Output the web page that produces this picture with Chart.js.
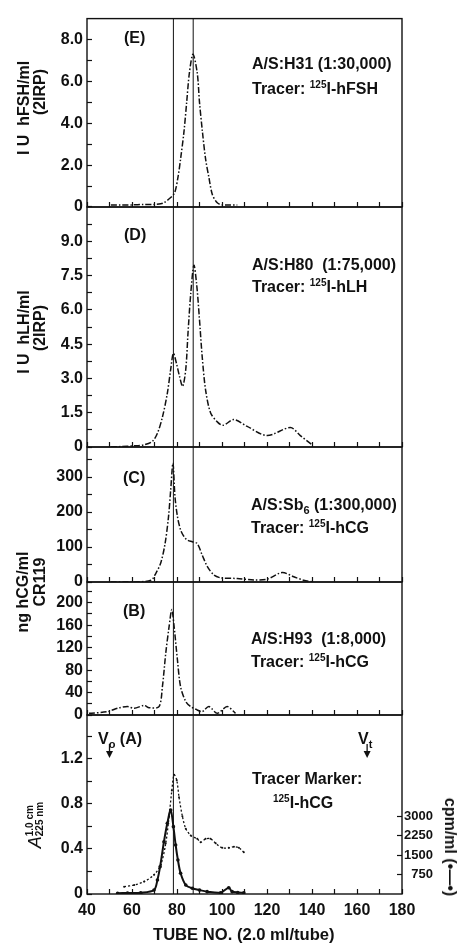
<!DOCTYPE html>
<html>
<head>
<meta charset="utf-8">
<script src="https://cdn.jsdelivr.net/npm/chart.js@4.4.1/dist/chart.umd.min.js"></script>
<style>
  html, body { margin: 0; padding: 0; background: #fff; }
  body { width: 459px; height: 945px; position: relative; overflow: hidden;
         font-family: "Liberation Sans", Arial, sans-serif; color: #111; font-weight: bold; }
  canvas { position: absolute; left: 0; top: 0; }
  .txt { position: absolute; font-size: 16px; line-height: 1; white-space: nowrap; }
  .ytitle { position: absolute; font-size: 16px; line-height: 1; white-space: nowrap;
            transform: translate(-50%, -50%) rotate(-90deg); }
  .ytitle.down { transform: translate(-50%, -50%) rotate(90deg); }
  .sup { font-size: 10px; position: relative; top: -6px; }
  .sub { font-size: 11px; position: relative; top: 4px; }
</style>
</head>
<body>
<canvas id="panelE" width="459" height="945"></canvas>
<canvas id="panelD" width="459" height="945"></canvas>
<canvas id="panelC" width="459" height="945"></canvas>
<canvas id="panelB" width="459" height="945"></canvas>
<canvas id="panelA" width="459" height="945"></canvas>

<!-- axis titles -->
<div class="ytitle" style="left:24px; top:108px;">I U&nbsp;&nbsp;hFSH/ml</div>
<div class="ytitle" style="left:40px; top:92px;">(2IRP)</div>
<div class="ytitle" style="left:24px; top:332px;">I U&nbsp;&nbsp;hLH/ml</div>
<div class="ytitle" style="left:40px; top:328px;">(2IRP)</div>
<div class="ytitle" style="left:23px; top:592px;">ng hCG/ml</div>
<div class="ytitle" style="left:40px; top:582px;">CR119</div>
<div class="ytitle" style="left:35px; top:825px; font-weight:normal;"><i style="font-size:18px">A</i><span style="display:inline-block; font-size:10px; line-height:1; vertical-align:-2px; font-weight:bold;">1.0 cm<br>225 nm</span></div>
<div class="ytitle down" style="left:450px; top:847px;">cpm/ml (•—•)</div>
<div class="txt" style="left:153px; top:927px; font-size:16.6px;">TUBE NO. (2.0 ml/tube)</div>

<!-- panel annotations -->
<div class="txt" style="left:124px; top:30px;">(E)</div>
<div class="txt" style="left:252px; top:56px;">A/S:H31 (1:30,000)</div>
<div class="txt" style="left:252px; top:81px;">Tracer: <span class="sup">125</span>I-hFSH</div>

<div class="txt" style="left:124px; top:227px;">(D)</div>
<div class="txt" style="left:252px; top:257px;">A/S:H80&nbsp; (1:75,000)</div>
<div class="txt" style="left:252px; top:279px;">Tracer: <span class="sup">125</span>I-hLH</div>

<div class="txt" style="left:123px; top:470px;">(C)</div>
<div class="txt" style="left:251px; top:497px;">A/S:Sb<span class="sub">6</span> (1:300,000)</div>
<div class="txt" style="left:251px; top:520px;">Tracer: <span class="sup">125</span>I-hCG</div>

<div class="txt" style="left:123px; top:603px;">(B)</div>
<div class="txt" style="left:251px; top:631px;">A/S:H93&nbsp; (1:8,000)</div>
<div class="txt" style="left:251px; top:654px;">Tracer: <span class="sup">125</span>I-hCG</div>

<div class="txt" style="left:98px; top:731px;">V<span class="sub">o</span> (A)</div>
<div class="txt" style="left:358px; top:731px;">V<span class="sub">t</span></div>
<div class="txt" style="left:252px; top:771px;">Tracer Marker:</div>
<div class="txt" style="left:273px; top:795px;"><span class="sup">125</span>I-hCG</div>

<script>
// x axis (tube number)
const tubeMin = 40;
const tubeMax = 180;
const xTicks = [40, 50, 60, 70, 80, 90, 100, 110, 120, 130, 140, 150, 160, 170, 180];
const markerTubes = [78.4, 87.2];   // the two vertical reference lines
const voidTubes = [50, 164.5];      // Vo and Vt arrows

// y tick positions of each panel (labelled ones are picked by the major step)
const eTicks = [0, 1, 2, 3, 4, 5, 6, 7, 8];
const dTicks = [0, 0.75, 1.5, 2.25, 3, 3.75, 4.5, 5.25, 6, 6.75, 7.5, 8.25, 9, 9.75];
const cTicks = [0, 50, 100, 150, 200, 250, 300, 350];
const bTicks = [0, 20, 40, 60, 80, 100, 120, 140, 160, 180, 200, 220];
const aTicks = [0, 0.2, 0.4, 0.6, 0.8, 1.0, 1.2, 1.4];
const cpmTicks = [750, 1500, 2250, 3000];

// (E) hFSH
const eTubes = [50.6, 55, 60, 65, 70, 72.8, 74.1, 77.2, 79, 80.4, 81.6, 83.1, 84.3, 85.5, 87.1,
                89, 90, 91.3, 92.7, 94.2, 95.7, 97.9, 100.1, 103, 106.8];
const eValues = [0.1, 0.1, 0.1, 0.12, 0.12, 0.15, 0.2, 0.45, 0.7, 1.4, 2.3, 3.6, 5.0, 6.4, 7.3,
                 6.4, 5.0, 3.6, 2.3, 1.4, 0.6, 0.2, 0.1, 0.1, 0.1];

// (D) hLH
const dTubes = [50.6, 55, 61, 65.4, 69.1, 71.3, 73.5, 75.7, 77.2, 78.4, 79.9, 81.1, 82.5, 83.9, 84.9,
                86.1, 87.5, 88.7, 89.9, 91.2, 92.7, 94.9, 97.9, 100.5, 105.3, 111.2, 120, 130.4, 134.8, 140];
const dValues = [0, 0.02, 0.05, 0.1, 0.25, 0.6, 1.3, 2.35, 3.4, 4.1, 3.6, 3.1, 2.65, 3.4, 5.0,
                 6.7, 7.95, 7.15, 5.7, 3.95, 2.5, 1.5, 1.1, 0.95, 1.2, 0.9, 0.5, 0.85, 0.5, 0.1];

// (C) hCG, A/S:Sb6
const cTubes = [50.6, 60, 68.4, 70.6, 72.8, 74.7, 76.2, 77.2, 78.2, 79.1, 80.2, 81.6, 83.1, 84.6,
                86.8, 89, 91.2, 93.5, 96.4, 99.4, 106.8, 114.2, 120, 126.7, 131.9, 136.3, 140.7];
const cValues = [0, 0, 5, 25, 55, 110, 185, 263, 340, 244, 187, 149, 130, 120,
                 115, 110, 77, 44, 20, 12, 10, 6, 8, 27, 15, 5, 0];

// (B) hCG, A/S:H93
const bTubes = [40.9, 49.2, 53.6, 58, 61, 65.4, 67.6, 72, 73.5, 75, 76.5, 77.7, 78.7, 80.2, 81.6,
                83.9, 86.1, 89, 91.2, 94.2, 97.9, 102.3, 106];
const bValues = [3, 6, 12, 15, 12, 17, 13, 15, 50, 110, 158, 188, 158, 98, 50,
                 24, 15, 9, 6, 15, 3, 15, 3];

// (A) tracer marker: absorbance (left axis) and cpm/ml (right axis)
const absTubes = [56.5, 61, 65.4, 69.8, 72.8, 75, 76.5, 77.7, 78.7, 79.9, 80.9, 82.4, 83.9, 86.1,
                  89, 90.5, 92.7, 94.9, 97.2, 100.1, 103, 105.3, 107.5, 109.7];
const absValues = [0.065, 0.08, 0.11, 0.17, 0.26, 0.45, 0.69, 0.92, 1.06, 1.01, 0.86, 0.69, 0.58, 0.52,
                   0.49, 0.46, 0.49, 0.49, 0.45, 0.41, 0.41, 0.42, 0.41, 0.37];
const cpmTubes = [53.6, 58, 63.9, 69.8, 71.3, 72.5, 74.2, 75.7, 77.2, 78.4, 79.4, 80.4, 81.6, 83.9,
                  86.8, 90, 93.4, 99.4, 103, 104.5, 107, 109.7];
const cpmValues = [30, 40, 50, 155, 540, 1050, 2010, 2720, 3230, 2590, 1885, 1310, 800, 345,
                   220, 150, 90, 50, 240, 90, 60, 50];

const INK = '#111';
const tickFont = { family: '"Liberation Sans", Arial, sans-serif', size: 16, weight: 'bold' };
const cpmFont = { family: '"Liberation Sans", Arial, sans-serif', size: 13, weight: 'bold' };
const dashDot = [6, 2, 1.5, 2];

function pts(xs, ys) {
    return xs.map((x, i) => ({ x: x, y: ys[i] }));
}

function isMultiple(v, step) {
    const r = v / step;
    return Math.abs(r - Math.round(r)) < 1e-6;
}

function useTicks(list) {
    return s => { s.ticks = list.map(v => ({ value: v })); };
}

// draws the panel box, and the Vo / Vt arrows on panel A
const framePlugin = {
    id: 'frame',
    afterDraw(chart, args, opts) {
        const { ctx, chartArea: a } = chart;
        ctx.save();
        ctx.strokeStyle = INK;
        ctx.lineWidth = 1.4;
        ctx.strokeRect(a.left, a.top, a.right - a.left, a.bottom - a.top);
        if (opts.arrows) {
            voidTubes.forEach(t => {
                const x = chart.scales.x.getPixelForValue(t);
                ctx.lineWidth = 1.3;
                ctx.beginPath();
                ctx.moveTo(x, a.top + 29);
                ctx.lineTo(x, a.top + 38);
                ctx.stroke();
                ctx.beginPath();
                ctx.moveTo(x - 3.5, a.top + 36);
                ctx.lineTo(x + 3.5, a.top + 36);
                ctx.lineTo(x, a.top + 43);
                ctx.closePath();
                ctx.fillStyle = INK;
                ctx.fill();
            });
        }
        ctx.restore();
    }
};

function makePanel(id, cfg) {
    const datasets = markerTubes.map(t => ({
        data: [{ x: t, y: 0 }, { x: t, y: cfg.max }],
        borderColor: INK, borderWidth: 1, pointRadius: 0, yAxisID: 'y'
    }));
    cfg.series.forEach(s => datasets.push(Object.assign({
        borderColor: INK, backgroundColor: INK, borderWidth: 1.5, pointRadius: 0,
        tension: 0.3, yAxisID: 'y'
    }, s)));

    const scales = {
        x: {
            type: 'linear', min: tubeMin, max: tubeMax, position: 'bottom',
            border: { display: false },
            grid: { drawOnChartArea: false, tickLength: -5, tickColor: INK, tickWidth: 1.2 },
            afterBuildTicks: useTicks(xTicks),
            ticks: {
                display: !!cfg.showX, autoSkip: false, maxRotation: 0,
                padding: 12, color: INK, font: tickFont,
                callback: v => isMultiple(v, 20) ? String(v) : ''
            },
            afterFit: s => { s.height = cfg.showX ? 30 : 0; }
        },
        y: {
            type: 'linear', min: 0, max: cfg.max, position: 'left',
            border: { display: false },
            grid: { drawOnChartArea: false, tickLength: -5, tickColor: INK, tickWidth: 1.2 },
            afterBuildTicks: useTicks(cfg.ticks),
            ticks: {
                autoSkip: false, padding: 9, color: INK, font: tickFont,
                callback: v => {
                    if (v === 0) return '0';
                    if (!isMultiple(v, cfg.major) || v > cfg.labelMax) return '';
                    return v.toFixed(cfg.decimals);
                }
            },
            afterFit: s => { s.width = 87; }
        }
    };

    if (cfg.right) {
        scales.y2 = {
            type: 'linear', min: 0, max: cfg.right.max, position: 'right',
            border: { display: false },
            grid: { drawOnChartArea: false, tickLength: -5, tickWidth: 1.2, tickColor: INK },
            afterBuildTicks: useTicks(cfg.right.ticks),
            ticks: {
                autoSkip: false, crossAlign: 'far', padding: 4, color: INK, font: cpmFont,
                callback: v => String(v)
            },
            afterFit: s => { s.width = 31; }
        };
    }

    return new Chart(document.getElementById(id), {
        type: 'line',
        data: { datasets: datasets },
        options: {
            responsive: false,
            animation: false,
            layout: {
                padding: {
                    top: cfg.top, left: 0,
                    right: cfg.right ? 26 : 57,
                    bottom: 945 - cfg.bottom - (cfg.showX ? 30 : 0)
                }
            },
            plugins: {
                legend: { display: false },
                tooltip: { enabled: false },
                frame: { arrows: !!cfg.arrows }
            },
            scales: scales
        },
        plugins: [framePlugin]
    });
}

makePanel('panelE', {
    top: 9, bottom: 207, max: 9, ticks: eTicks, major: 2, decimals: 1, labelMax: 8,
    series: [{ data: pts(eTubes, eValues), borderDash: dashDot }]
});

makePanel('panelD', {
    top: 207, bottom: 447, max: 10.5, ticks: dTicks, major: 1.5, decimals: 1, labelMax: 9,
    series: [{ data: pts(dTubes, dValues), borderDash: dashDot }]
});

makePanel('panelC', {
    top: 447, bottom: 582, max: 386, ticks: cTicks, major: 100, decimals: 0, labelMax: 300,
    series: [{ data: pts(cTubes, cValues), borderDash: dashDot }]
});

makePanel('panelB', {
    top: 582, bottom: 715, max: 237, ticks: bTicks, major: 40, decimals: 0, labelMax: 200,
    series: [{ data: pts(bTubes, bValues), borderDash: dashDot }]
});

makePanel('panelA', {
    top: 715, bottom: 894, max: 1.59, ticks: aTicks, major: 0.4, decimals: 1, labelMax: 1.2,
    showX: true, arrows: true,
    right: { max: 6885, ticks: cpmTicks },
    series: [
        { data: pts(absTubes, absValues), borderDash: [2, 2], borderWidth: 1.3,
          pointRadius: 1, pointBorderWidth: 0 },
        { data: pts(cpmTubes, cpmValues), yAxisID: 'y2', borderWidth: 2,
          pointRadius: 1.8, pointBorderWidth: 0 }
    ]
});
</script>
</body>
</html>
